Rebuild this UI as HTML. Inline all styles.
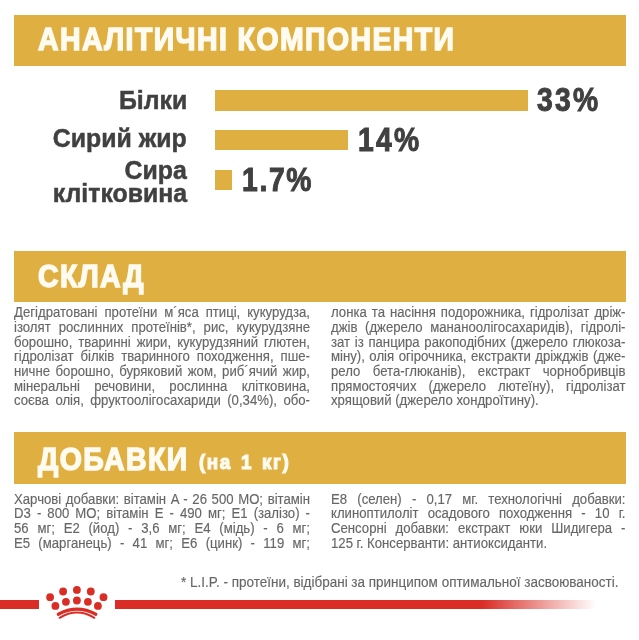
<!DOCTYPE html>
<html lang="uk">
<head>
<meta charset="utf-8">
<style>
html,body{margin:0;padding:0;background:#fff;}
body{width:639px;height:640px;position:relative;overflow:hidden;font-family:"Liberation Sans",sans-serif;}
.bar{position:absolute;left:14px;width:612.3px;background:#e0af41;}
.h{position:absolute;left:38px;color:#fffbf0;font-weight:bold;white-space:nowrap;transform-origin:0 0;line-height:1;font-size:30.9px;transform:scaleX(0.92);-webkit-text-stroke:1.5px #fffbf0;letter-spacing:1.56px;}
.lbl{position:absolute;right:452.2px;color:#404040;font-weight:bold;white-space:nowrap;text-align:right;line-height:1;font-size:26.3px;transform-origin:100% 0;transform:scaleX(0.945);-webkit-text-stroke:0.5px #404040;}
.gb{position:absolute;left:215.3px;height:20.5px;background:#e0af41;}
.pct{position:absolute;color:#404040;font-weight:bold;white-space:nowrap;line-height:1;transform-origin:0 0;font-size:32.5px;transform:scaleX(0.87);-webkit-text-stroke:1.0px #404040;letter-spacing:2.6px;}
.t{position:absolute;color:#676767;font-size:14.0px;line-height:1;white-space:pre;transform-origin:0 0;transform:scaleX(0.94);-webkit-text-stroke:0.15px #676767;}
</style>
</head>
<body>
<div class="bar" style="top:14.7px;height:51.2px;"></div>
<div class="h" style="top:24.9px;">АНАЛІТИЧНІ КОМПОНЕНТИ</div>

<div class="lbl" style="top:87px;">Білки</div>
<div class="gb" style="top:90px;width:312.9px;"></div>
<div class="pct" style="left:537px;top:83.5px;">33%</div>

<div class="lbl" style="top:124.5px;">Сирий жир</div>
<div class="gb" style="top:129.9px;width:132.7px;"></div>
<div class="pct" style="left:357.5px;top:123.5px;">14%</div>

<div class="lbl" style="top:157.3px;">Сира</div>
<div class="lbl" style="top:180.2px;">клітковина</div>
<div class="gb" style="top:169.6px;width:16.3px;"></div>
<div class="pct" style="left:241.5px;top:163.5px;letter-spacing:1.9px;">1.7%</div>

<div class="bar" style="top:250.8px;height:50.9px;"></div>
<div class="h" style="top:262.4px;">СКЛАД</div>
<div class="t" style="left:14px;top:305.35px;word-spacing:3.454px;">Дегідратовані протеїни м´яса птиці, кукурудза,</div>
<div class="t" style="left:14px;top:319.98px;word-spacing:4.579px;">ізолят рослинних протеїнів*, рис, кукурудзяне</div>
<div class="t" style="left:14px;top:334.61px;word-spacing:2.509px;">борошно, тваринні жири, кукурудзяний глютен,</div>
<div class="t" style="left:14px;top:349.24px;word-spacing:3.540px;">гідролізат білків тваринного походження, пше-</div>
<div class="t" style="left:14px;top:363.87px;word-spacing:1.963px;">ничне борошно, буряковий жом, риб´ячий жир,</div>
<div class="t" style="left:14px;top:378.50px;word-spacing:11.230px;">мінеральні речовини, рослинна клітковина,</div>
<div class="t" style="left:14px;top:393.13px;word-spacing:2.989px;">соєва олія, фруктоолігосахариди (0,34%), обо-</div>
<div class="t" style="left:330.5px;top:305.35px;word-spacing:1.456px;">лонка та насіння подорожника, гідролізат дріж-</div>
<div class="t" style="left:330.5px;top:319.98px;word-spacing:4.224px;">джів (джерело мананоолігосахаридів), гідролі-</div>
<div class="t" style="left:330.5px;top:334.61px;word-spacing:1.100px;">зат із панцира ракоподібних (джерело глюкоза-</div>
<div class="t" style="left:330.5px;top:349.24px;word-spacing:0.906px;">міну), олія огірочника, екстракти дріжджів (дже-</div>
<div class="t" style="left:330.5px;top:363.87px;word-spacing:9.412px;">рело бета-глюканів), екстракт чорнобривців</div>
<div class="t" style="left:330.5px;top:378.50px;word-spacing:8.891px;">прямостоячих (джерело лютеїну), гідролізат</div>
<div class="t" style="left:330.5px;top:393.13px;">хрящовий (джерело хондроїтину).</div>

<div class="bar" style="top:432.4px;height:51.3px;"></div>
<div class="h" style="top:444.5px;">ДОБАВКИ</div>
<div class="h" style="left:199px;top:452.0px;font-size:20.5px;transform:scaleX(0.92);-webkit-text-stroke:1.2px #fffbf0;letter-spacing:1.7px;word-spacing:2.5px;">(на 1 кг)</div>
<div class="t" style="left:14px;top:491.55px;word-spacing:1.014px;">Харчові добавки: вітамін A - 26 500 МО; вітамін</div>
<div class="t" style="left:14px;top:506.25px;word-spacing:2.551px;">D3 - 800 МО; вітамін E - 490 мг; E1 (залізо) -</div>
<div class="t" style="left:14px;top:520.95px;word-spacing:5.412px;">56 мг; E2 (йод) - 3,6 мг; E4 (мідь) - 6 мг;</div>
<div class="t" style="left:14px;top:535.65px;word-spacing:4.914px;">E5 (марганець) - 41 мг; E6 (цинк) - 119 мг;</div>
<div class="t" style="left:330.5px;top:491.55px;word-spacing:6.925px;">E8 (селен) - 0,17 мг. технологічні добавки:</div>
<div class="t" style="left:330.5px;top:506.25px;word-spacing:5.828px;">клиноптилоліт осадового походження - 10 г.</div>
<div class="t" style="left:330.5px;top:520.95px;word-spacing:5.656px;">Сенсорні добавки: екстракт юки Шидигера -</div>
<div class="t" style="left:330.5px;top:535.65px;">125 г. Консерванти: антиоксиданти.</div>

<div class="t" style="left:181px;top:575.15px;transform:scaleX(0.963);">* L.I.P. - протеїни, відібрані за принципом оптимальної засвоюваності.</div>
<div style="position:absolute;left:0;top:600px;width:39px;height:9.2px;background:#da2d26;"></div>
<div style="position:absolute;left:115px;top:600px;width:485px;height:9.2px;background:linear-gradient(to right,#da2d26 0,#da2d26 367px,rgba(218,45,38,0) 481px);"></div>
<svg style="position:absolute;left:0;top:0" width="639" height="640" viewBox="0 0 639 640">
<g fill="#da2d26">
<circle cx="50.1" cy="597.2" r="3.9"/><circle cx="63.1" cy="591.5" r="3.9"/><circle cx="76.9" cy="589.9" r="3.9"/><circle cx="90.8" cy="591.5" r="3.9"/><circle cx="103.5" cy="597.2" r="3.9"/>
<circle cx="55.4" cy="605.9" r="3.9"/><circle cx="65.9" cy="601.8" r="3.9"/><circle cx="76.9" cy="600.5" r="3.9"/><circle cx="87.9" cy="601.8" r="3.9"/><circle cx="97.9" cy="605.9" r="3.9"/>
</g>
<path d="M58.3 614.3 Q77 604.1 95.8 614.3" stroke="#da2d26" stroke-width="3.3" fill="none" stroke-linecap="round"/>
<path d="M59.6 617.8 Q77 607.2 94.4 617.8" stroke="#da2d26" stroke-width="2" fill="none" stroke-linecap="round"/>
</svg>
</body>
</html>
